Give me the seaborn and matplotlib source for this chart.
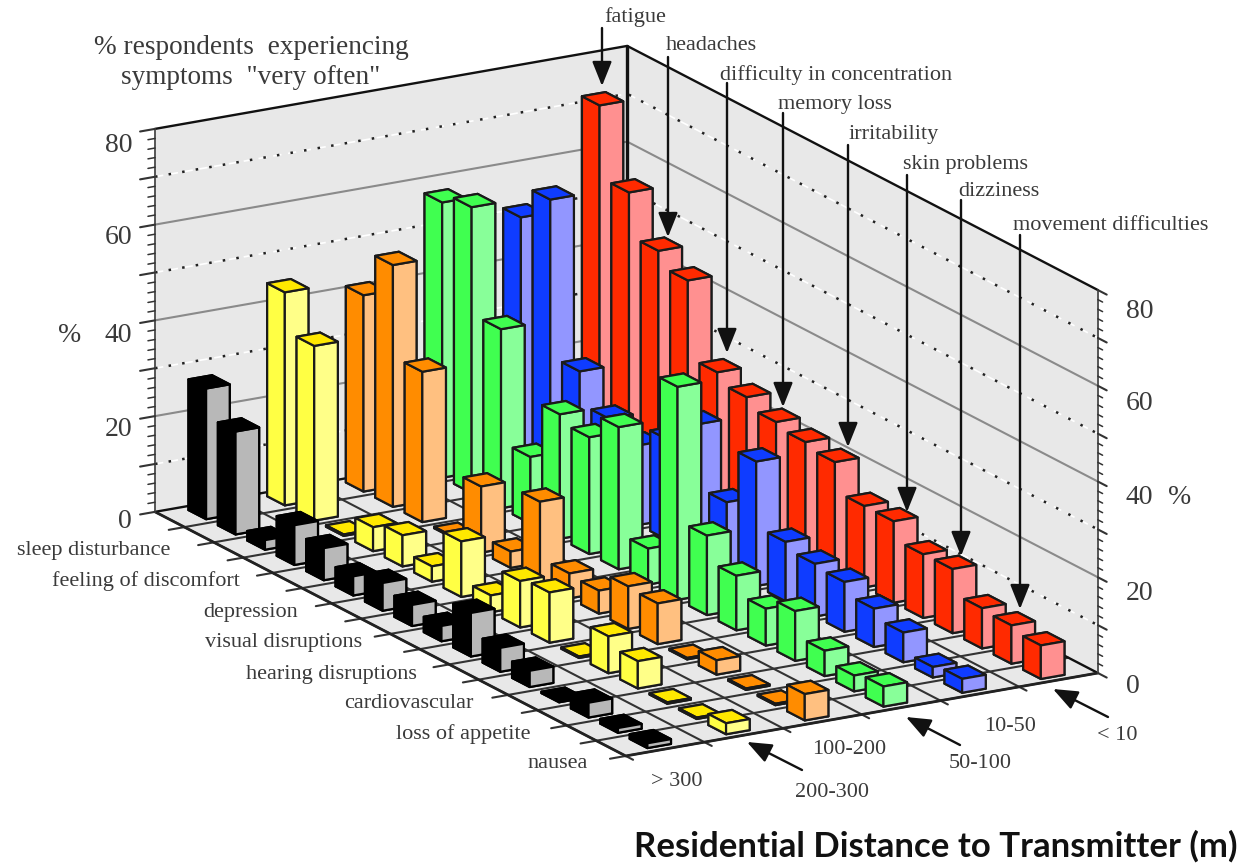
import numpy as np
import matplotlib
matplotlib.use("Agg")
import matplotlib.pyplot as plt
import seaborn as sns
from mpl_toolkits.mplot3d.art3d import Poly3DCollection

sns.set_theme(style="white")
plt.rcParams['font.family'] = ['Liberation Serif', 'DejaVu Serif']

symptoms = ["fatigue", "sleep disturbance", "headaches", "feeling of discomfort",
            "difficulty in concentration", "depression", "memory loss", "visual disruptions",
            "irritability", "hearing disruptions", "skin problems", "cardiovascular",
            "dizziness", "loss of appetite", "movement difficulties", "nausea"]
distances = ["< 10", "10-50", "50-100", "100-200", "200-300", "> 300"]

# % per symptom, one list per distance band
lt_10 = [72, 57, 48, 45, 29, 27, 25, 24, 23, 17, 17, 13.3, 13.4, 8.4, 8, 7]
d_10_50 = [51.5, 58.4, 25.7, 19, 16.6, 21, 27.4, 14.3, 26, 12.4, 11, 10.4, 8, 6.2, 2.2, 2.9]
d_50_100 = [57.5, 59.7, 37.4, 13.9, 26, 24.4, 29.7, 7.5, 44.5, 16.6, 11.4, 7.7, 10.4, 5.3, 3.3, 4.2]
d_100_200 = [41, 50.5, 31.4, 0.3, 13.8, 3.4, 17, 5.2, 4.8, 8.9, 8.5, 0.3, 3, 0.3, 0.3, 5.5]
d_200_300 = [44.5, 36.5, 0.3, 5, 6.5, 3.2, 11.6, 3.5, 9.7, 10.5, 0.3, 7.7, 5.7, 0.3, 0.3, 2.3]
gt_300 = [27.3, 21.5, 2, 8.3, 6.7, 4, 5.8, 4.4, 3.2, 9.1, 5, 3.4, 0.3, 3.1, 1, 1]
values = [lt_10, d_10_50, d_50_100, d_100_200, d_200_300, gt_300]

side_colors = sns.color_palette(["#ff2a00", "#0f3cff", "#40ff50", "#ff8c00", "#ffff44", "#000000"])
light_colors = sns.color_palette(["#ff9090", "#9296ff", "#88ff99", "#ffc080", "#ffff88", "#b8b8b8"])
top_colors = sns.color_palette(["#ff2a00", "#0f3cff", "#40ff50", "#ff8c00", "#ffe800", "#000000"])

W, H = 1253, 863
fig = plt.figure(figsize=(W / 100, H / 100), dpi=100)
ax = fig.add_axes([50.4 / W, -114 / H, 1121.8 / W, 1121.8 / H], projection='3d',
                  proj_type='ortho', computed_zorder=False)
ax.set_box_aspect((546.3, 935.7, 401.7))
ax.view_init(elev=17.57, azim=59.8)
ax.set_axis_off()

n_x, n_y, z_max = len(distances), len(symptoms), 80

# walls and floor
pane = "#e8e8e8"
walls = [[(0, 0, 0), (n_x, 0, 0), (n_x, 0, z_max), (0, 0, z_max)],
         [(0, 0, 0), (0, n_y, 0), (0, n_y, z_max), (0, 0, z_max)],
         [(0, 0, 0), (n_x, 0, 0), (n_x, n_y, 0), (0, n_y, 0)]]
ax.add_collection3d(Poly3DCollection(walls, facecolor=pane, edgecolor='none', zorder=1))

line_dark = "#333333"
for z in range(10, z_max, 10):
    if z % 20 == 0:
        ax.plot([n_x, 0, 0], [0, 0, n_y], [z, z, z], color="#8a8a8a", lw=1.5, zorder=2)
    else:
        ax.plot([n_x, 0, 0], [0, 0, n_y], [z, z, z], color="white", lw=1.2, ls=(0, (5, 4)), zorder=2)
        ax.plot([n_x, 0, 0], [0, 0, n_y], [z, z, z], color="#222222", lw=1.8,
                ls=(0, (1, 4.5)), zorder=2)

# floor grid with the ticks sticking out over the edges
for j in range(1, n_y + 1):
    ax.plot([0, n_x + 0.2], [j, j], [0, 0], color=line_dark, lw=1.5, zorder=3)
for i in range(1, n_x + 1):
    ax.plot([i, i], [0, n_y + 0.25], [0, 0], color=line_dark, lw=1.5, zorder=3)

# outline of the box
ax.plot([n_x, 0, 0], [0, 0, n_y], [z_max, z_max, z_max], color="#111111", lw=1.7, zorder=4)
ax.plot([0, 0], [0, 0], [0, z_max], color="#111111", lw=2.4, zorder=4)
ax.plot([n_x, 0, 0], [0, 0, n_y], [0, 0, 0], color="#111111", lw=1.7, zorder=4)
ax.plot([n_x, n_x, 0], [0, n_y, n_y], [0, 0, 0], color="#222222", lw=2.0, zorder=4)
ax.plot([n_x, n_x], [0, 0], [0, z_max], color="#555555", lw=1.4, zorder=4)
ax.plot([0, 0], [n_y, n_y], [0, z_max], color="#555555", lw=1.4, zorder=4)

# value axis ticks on both ends
for z in range(0, z_max + 1, 2):
    major = z % 10 == 0
    ax.plot([n_x, n_x + (0.19 if major else 0.09)], [0, 0], [z, z], color=line_dark,
            lw=1.5 if major else 1.1, zorder=4)
    ax.plot([0, 0], [n_y, n_y + (0.3 if major else 0.16)], [z, z], color=line_dark,
            lw=1.5 if major else 1.1, zorder=4)

# bars, back to front
bar_dx, bar_dy = 0.3, 0.6
order = 10
for i in range(n_x):
    for j in range(n_y):
        # face order in bar3d: -z, +z, -y, +y, -x, +x
        faces = [top_colors[i], top_colors[i], light_colors[i], light_colors[i],
                 side_colors[i], side_colors[i]]
        ax.bar3d(i + 0.35, j + 0.2, 0, bar_dx, bar_dy, values[i][j], color=faces, shade=False,
                 edgecolor="#000000" if i == n_x - 1 else "#1a1a1a", linewidth=1.6, zorder=order)
        order += 1

ax.set_xlim(0, n_x)
ax.set_ylim(0, n_y)
ax.set_zlim(0, z_max)

txt = "#3a3a3a"
tick_fs = 20
label_fs = 16


def put(x, y, s, **kw):
    kw.setdefault('fontsize', label_fs)
    kw.setdefault('color', txt)
    kw.setdefault('va', 'center')
    # va center sits a little high for these fonts
    return fig.text(x / W, 1 - (y + 3) / H, s, **kw)


def arrow(x0, y0, x1, y1):
    ax.annotate('', xy=(x1 / W, 1 - y1 / H), xytext=(x0 / W, 1 - y0 / H),
                xycoords='figure fraction', textcoords='figure fraction', zorder=2000,
                arrowprops=dict(arrowstyle='-|>,head_length=1.5,head_width=0.6', color='#111111',
                                lw=1.7, shrinkA=0, shrinkB=0, mutation_scale=10))


tick_labels = ["0", "20", "40", "60", "80"]
left_tick_y = [518, 427, 332, 235, 142]
right_tick_y = [683, 590, 495, 400, 308]
for k in range(len(tick_labels)):
    put(132, left_tick_y[k], tick_labels[k], fontsize=tick_fs, ha='right')
    put(1126, right_tick_y[k], tick_labels[k], fontsize=tick_fs, ha='left')

put(70, 332, "%", fontsize=tick_fs, ha='center')
put(1180, 495, "%", fontsize=tick_fs, ha='center')
put(94, 45, "% respondents  experiencing", fontsize=19.6)
put(121, 75, 'symptoms  "very often"', fontsize=19.6)

# labels on top with the arrows running down to their red bars
top_labels = symptoms[0::2]
top_x = [604, 666, 720, 778, 849, 903, 958, 1013]
top_y = [14, 43, 72, 101, 132, 161, 189, 222]
arrow_x = [602, 668, 727, 783, 848, 907, 961, 1020]
arrow_y0 = [28, 57, 83, 113, 145, 175, 200, 235]
arrow_y1 = [86, 237, 353, 407, 447, 512, 556, 609]
for k in range(len(top_labels)):
    put(top_x[k], top_y[k], top_labels[k])
    arrow(arrow_x[k], arrow_y0[k], arrow_x[k], arrow_y1[k])

left_labels = symptoms[1::2]
left_x = [170, 240, 298, 362, 417, 474, 531, 588]
left_y = [547, 578, 609, 640, 671, 700, 731, 760]
for k in range(len(left_labels)):
    put(left_x[k], left_y[k], left_labels[k], ha='right')

dist_x = [1117, 1010, 980, 849, 832, 677]
dist_y = [732, 723, 760, 747, 789, 778]
for k in range(len(distances)):
    put(dist_x[k], dist_y[k], distances[k], ha='center')
arrow(1108, 717, 1053, 689)
arrow(960, 745, 906, 717)
arrow(802, 770, 747, 742)

put(634, 843, "Residential Distance to Transmitter (m)", fontsize=25, fontweight='bold',
    family=['Lato', 'DejaVu Sans'], color="#111111")

fig.savefig("out.png", dpi=100, facecolor='white')
